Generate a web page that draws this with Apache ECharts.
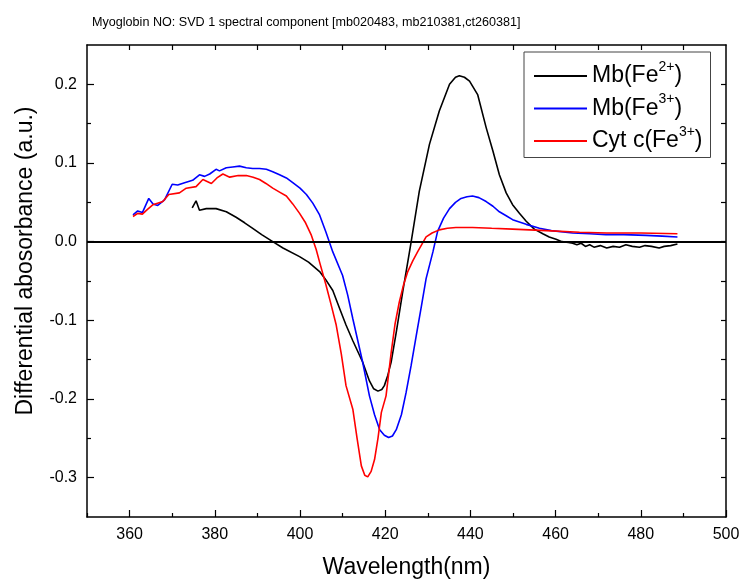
<!DOCTYPE html>
<html>
<head>
<meta charset="utf-8">
<script src="https://cdn.jsdelivr.net/npm/echarts@6/dist/echarts.min.js"></script>
<style>
  html, body { margin: 0; padding: 0; background: #fff; }
  #chart { width: 740px; height: 579px; }
</style>
</head>
<body>
<div id="chart"></div>
<script>
// Mb(Fe2+) - black
const mbFe2Wl = [374.7, 375.6, 376.4, 378, 380.3, 382.7, 385, 387, 388.9, 391, 393.6, 396, 399.9, 402, 404.6, 406, 407.7, 409.3, 410.8, 412.4, 414.7, 416.3, 417.3, 418.3, 419.2, 419.8, 420.6, 421.4, 422.6, 424.1, 425.7, 426.1, 428, 430.4, 432.7, 435.1, 436.5, 437.4, 438.6, 439.8, 441.7, 443.7, 445.3, 446.8, 448.4, 449.9, 451.5, 453.1, 455, 457, 458.5, 460.1, 461.5, 463, 464, 465, 466, 467, 468, 469, 470.5, 472, 473.5, 475, 476.5, 478, 479.7, 481, 482.5, 484.3, 485.5, 487, 488.6]
const mbFe2Abs = [0.043, 0.052, 0.040, 0.042, 0.042, 0.038, 0.031, 0.024, 0.017, 0.009, 0.000, -0.008, -0.019, -0.026, -0.038, -0.048, -0.062, -0.085, -0.106, -0.126, -0.153, -0.177, -0.187, -0.190, -0.188, -0.183, -0.170, -0.153, -0.115, -0.064, -0.013, 0.000, 0.064, 0.124, 0.166, 0.200, 0.209, 0.211, 0.209, 0.204, 0.187, 0.145, 0.115, 0.085, 0.062, 0.047, 0.036, 0.026, 0.016, 0.010, 0.006, 0.003, 0.000, -0.001, -0.002, -0.004, -0.002, -0.006, -0.004, -0.007, -0.005, -0.008, -0.006, -0.007, -0.004, -0.006, -0.007, -0.005, -0.006, -0.008, -0.006, -0.005, -0.003]

// Mb(Fe3+) - blue
const mbFe3Wl = [360.8, 361.9, 363, 364.5, 365.5, 366.6, 368.2, 370, 371.3, 372.9, 374.8, 376.4, 377.6, 378.8, 380.3, 381.1, 382.7, 384.2, 385.8, 387.4, 388.9, 390.5, 392.1, 393.6, 395.2, 396.8, 398.3, 400, 401.5, 403, 404.6, 406.1, 407.7, 410, 411.2, 412.4, 414.7, 416.3, 417.5, 418.7, 419.8, 420.8, 421.7, 422.6, 423.8, 424.9, 426.1, 427.3, 428.5, 429.6, 431.2, 432.3, 433.7, 435.1, 436.5, 437.8, 439.2, 440.5, 442, 443.7, 445.3, 446.8, 448.4, 449.9, 451.5, 453.1, 456.2, 459, 464, 468, 471.8, 476, 481.2, 485, 488.6]
const mbFe3Abs = [0.034, 0.039, 0.037, 0.055, 0.048, 0.046, 0.053, 0.073, 0.072, 0.075, 0.078, 0.085, 0.083, 0.086, 0.092, 0.090, 0.094, 0.095, 0.096, 0.094, 0.093, 0.093, 0.092, 0.089, 0.085, 0.081, 0.075, 0.068, 0.060, 0.049, 0.034, 0.012, -0.013, -0.043, -0.068, -0.098, -0.153, -0.196, -0.220, -0.239, -0.246, -0.249, -0.247, -0.239, -0.220, -0.192, -0.157, -0.119, -0.082, -0.047, -0.013, 0.013, 0.030, 0.042, 0.050, 0.055, 0.057, 0.058, 0.056, 0.051, 0.045, 0.038, 0.033, 0.028, 0.025, 0.022, 0.017, 0.014, 0.011, 0.010, 0.009, 0.009, 0.008, 0.007, 0.006]

// Cyt c(Fe3+) - red
const cytWl = [360.8, 361.9, 363, 364.2, 365.5, 367.8, 369.2, 371.7, 373.3, 375.6, 377.2, 379.2, 380.5, 381.9, 383.5, 385.5, 387.4, 389, 390.5, 392, 393.6, 395.2, 396.8, 398.3, 399.9, 401.3, 402.6, 403.8, 404.6, 406.1, 407.3, 408.5, 409.7, 410.8, 412.4, 413.4, 414.4, 415.2, 415.9, 416.7, 417.5, 418.3, 419.1, 420.2, 421.4, 422.3, 423.3, 424.3, 425.3, 426.5, 427.6, 429.6, 431, 432.7, 434.6, 436.6, 440.5, 445, 449.9, 457.8, 465.6, 472, 480, 488.6]
const cytAbs = [0.032, 0.036, 0.035, 0.041, 0.047, 0.051, 0.060, 0.062, 0.068, 0.070, 0.079, 0.074, 0.081, 0.086, 0.082, 0.084, 0.084, 0.082, 0.079, 0.074, 0.068, 0.063, 0.058, 0.048, 0.036, 0.024, 0.009, -0.010, -0.026, -0.055, -0.080, -0.106, -0.143, -0.183, -0.213, -0.250, -0.285, -0.297, -0.299, -0.292, -0.277, -0.250, -0.217, -0.196, -0.141, -0.105, -0.077, -0.055, -0.038, -0.024, -0.013, 0.006, 0.011, 0.015, 0.017, 0.018, 0.018, 0.017, 0.016, 0.014, 0.012, 0.011, 0.011, 0.010]

const xMajor = [360, 380, 400, 420, 440, 460, 480, 500]
const xMinor = [350, 370, 390, 410, 430, 450, 470, 490]
const xTop = [360, 370, 380, 390, 400, 410, 420, 430, 440, 450, 460, 470, 480, 490]
const yMajor = [-0.3, -0.2, -0.1, 0, 0.1, 0.2]
const yMinor = [-0.25, -0.15, -0.05, 0.05, 0.15]
const yRight = [-0.3, -0.25, -0.2, -0.15, -0.1, -0.05, 0, 0.05, 0.1, 0.15, 0.2]

const legendText = {
  'Mb(Fe2+)': '{a|Mb(Fe}{s|2+}{a|)}',
  'Mb(Fe3+)': '{a|Mb(Fe}{s|3+}{a|)}',
  'Cyt c(Fe3+)': '{a|Cyt c(Fe}{s|3+}{a|)}'
}

const font = 'Liberation Sans, Arial, sans-serif'
const black = '#000'

function pairs(xs, ys) {
  return xs.map((x, i) => [x, ys[i]])
}

const xBase = { type: 'value', min: 350, max: 500, splitLine: { show: false } }
const yBase = { type: 'value', min: -0.35, max: 0.25, splitLine: { show: false } }
const line = { show: true, onZero: false, lineStyle: { color: black, width: 1.5 } }
const noLine = { show: false, onZero: false }
const tickStyle = { color: black, width: 1.2 }

const chart = echarts.init(document.getElementById('chart'))
chart.setOption({
  animation: false,
  title: {
    text: 'Myoglobin NO: SVD 1 spectral component [mb020483, mb210381,ct260381]',
    left: 87,
    top: 11,
    textStyle: { fontFamily: font, fontSize: 12.6, fontWeight: 'normal', color: black }
  },
  graphic: [{
    type: 'text',
    x: 26,
    y: 261,
    rotation: Math.PI / 2,
    style: {
      text: 'Differential abosorbance (a.u.)',
      font: '23px ' + font,
      fill: black,
      align: 'center',
      verticalAlign: 'middle'
    }
  }],
  legend: {
    left: 524,
    top: 52,
    orient: 'vertical',
    icon: 'rect',
    itemWidth: 53,
    itemHeight: 2,
    itemGap: 5,
    padding: [8, 8, 5, 10],
    borderColor: '#444',
    borderWidth: 1,
    backgroundColor: '#fff',
    data: ['Mb(Fe2+)', 'Mb(Fe3+)', 'Cyt c(Fe3+)'],
    formatter: name => legendText[name],
    textStyle: {
      fontFamily: font,
      color: black,
      rich: {
        a: { fontFamily: font, fontSize: 23, lineHeight: 32, color: black },
        s: { fontFamily: font, fontSize: 14, lineHeight: 14, color: black, verticalAlign: 'top' }
      }
    }
  },
  grid: { left: 87, right: 14, top: 45, bottom: 62, containLabel: false, outerBoundsMode: 'none' },
  xAxis: [
    Object.assign({}, xBase, {
      position: 'bottom',
      axisLine: line,
      axisTick: { inside: true, length: 7, customValues: xMajor, lineStyle: tickStyle },
      axisLabel: { customValues: xMajor, color: black, fontFamily: font, fontSize: 16, margin: 10 },
      name: 'Wavelength(nm)',
      nameLocation: 'middle',
      nameGap: 39,
      nameTextStyle: { fontFamily: font, fontSize: 23, color: black }
    }),
    Object.assign({}, xBase, {
      position: 'bottom',
      axisLine: noLine,
      axisTick: { inside: true, length: 4, customValues: xMinor, lineStyle: tickStyle },
      axisLabel: { show: false }
    }),
    Object.assign({}, xBase, {
      position: 'top',
      axisLine: line,
      axisTick: { inside: true, length: 5, customValues: xTop, lineStyle: tickStyle },
      axisLabel: { show: false }
    })
  ],
  yAxis: [
    Object.assign({}, yBase, {
      position: 'left',
      axisLine: line,
      axisTick: { inside: true, length: 7, customValues: yMajor, lineStyle: tickStyle },
      axisLabel: {
        customValues: yMajor,
        formatter: v => v.toFixed(1),
        color: black, fontFamily: font, fontSize: 16, margin: 10
      }
    }),
    Object.assign({}, yBase, {
      position: 'left',
      axisLine: noLine,
      axisTick: { inside: true, length: 4, customValues: yMinor, lineStyle: tickStyle },
      axisLabel: { show: false }
    }),
    Object.assign({}, yBase, {
      position: 'right',
      axisLine: line,
      axisTick: { inside: true, length: 5, customValues: yRight, lineStyle: tickStyle },
      axisLabel: { show: false }
    })
  ],
  series: [
    {
      name: 'Mb(Fe2+)',
      type: 'line',
      data: pairs(mbFe2Wl, mbFe2Abs),
      showSymbol: false,
      color: '#000',
      lineStyle: { width: 1.6 },
      markLine: {
        silent: true,
        symbol: ['none', 'none'],
        label: { show: false },
        lineStyle: { color: black, width: 2, type: 'solid' },
        data: [{ yAxis: 0 }]
      }
    },
    {
      name: 'Mb(Fe3+)',
      type: 'line',
      data: pairs(mbFe3Wl, mbFe3Abs),
      showSymbol: false,
      color: '#0000ff',
      lineStyle: { width: 1.6 }
    },
    {
      name: 'Cyt c(Fe3+)',
      type: 'line',
      data: pairs(cytWl, cytAbs),
      showSymbol: false,
      color: '#ff0000',
      lineStyle: { width: 1.6 }
    }
  ]
})
</script>
</body>
</html>
